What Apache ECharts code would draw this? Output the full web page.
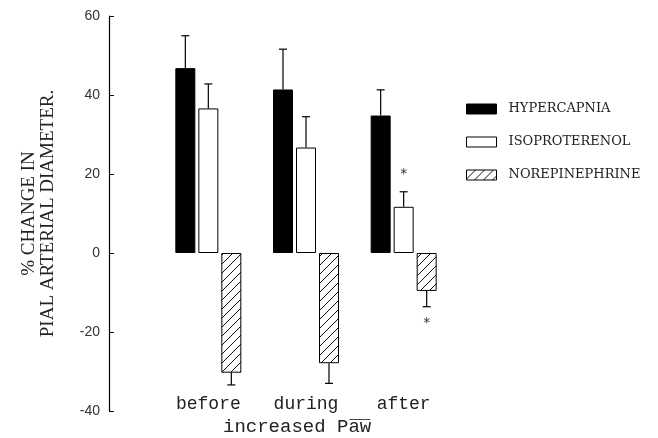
<!DOCTYPE html>
<html>
<head>
<meta charset="utf-8">
<script src="https://cdn.jsdelivr.net/npm/echarts@6/dist/echarts.min.js"></script>
<style>html,body{margin:0;padding:0;background:#fff}#c{width:658px;height:438px}</style>
</head>
<body>
<div id="c"></div>
<script>
// ---- data ----
const categories = ['before', 'during', 'after'];
const seriesNames = ['HYPERCAPNIA', 'ISOPROTERENOL', 'NOREPINEPHRINE'];
const hypercapnia = [46.8, 41.4, 34.8];
const hypercapniaSem = [8.2, 10.2, 6.5];
const isoproterenol = [36.6, 26.7, 11.7];
const isoproterenolSem = [6.2, 7.8, 3.8];
const norepinephrine = [-30.3, -27.9, -9.6];
const norepinephrineSem = [3.1, 5.1, 4.0];
const isoproterenolSig = [0, 0, 1];
const norepinephrineSig = [0, 0, 1];
const yTicks = [-40, -20, 0, 20, 40, 60];
const xTitle = 'increased Paw';

// ---- hatch pattern ----
const T = 9;
const pc = document.createElement('canvas');
pc.width = T; pc.height = T;
const ctx = pc.getContext('2d');
ctx.fillStyle = '#fff'; ctx.fillRect(0, 0, T, T);
ctx.strokeStyle = '#111'; ctx.lineWidth = 1;
ctx.beginPath();
ctx.moveTo(0, T); ctx.lineTo(T, 0);
ctx.moveTo(-T / 2, T / 2); ctx.lineTo(T / 2, -T / 2);
ctx.moveTo(T / 2, T * 1.5); ctx.lineTo(T * 1.5, T / 2);
ctx.stroke();

const BAR_W = 20, GAP = 3;
const values = [hypercapnia, isoproterenol, norepinephrine];
const sems = [hypercapniaSem, isoproterenolSem, norepinephrineSem];
const sigs = [[0, 0, 0], isoproterenolSig, norepinephrineSig];
const errData = [];
values.forEach((arr, s) => arr.forEach((v, i) => errData.push([i, v, sems[s][i], s, sigs[s][i]])));

const fills = ['#000', '#fff', {image: pc, repeat: 'repeat'}];

const chart = echarts.init(document.getElementById('c'), null, {renderer: 'canvas'});
const barSeries = seriesNames.map((n, s) => ({
  name: n, type: 'bar', data: values[s], barWidth: BAR_W, barGap: (GAP / BAR_W * 100) + '%',
  itemStyle: {color: fills[s], borderColor: '#000', borderWidth: 1},
  emphasis: {disabled: true}, animation: false
}));

const MONO = 'Liberation Mono';
const TITLE_FS = 19, CW = TITLE_FS * 0.6, TITLE_X = 223;

chart.setOption({
  animation: false,
  grid: {left: 159.5, right: 205.5, top: 16, bottom: 27, containLabel: false},
  legend: {
    orient: 'vertical', left: 466, top: 102.5, padding: 0, itemWidth: 30, itemHeight: 10, itemGap: 20,
    icon: 'rect', selectedMode: false,
    data: seriesNames,
    itemStyle: {borderColor: '#000', borderWidth: 1},
    textStyle: {fontFamily: 'DejaVu Serif', fontSize: 13, color: '#222', padding: [0, 0, 0, 7]}
  },
  xAxis: {
    type: 'category', data: categories,
    axisLine: {show: false, onZero: false}, axisTick: {show: false},
    axisLabel: {fontFamily: MONO, fontSize: 18, color: '#222', verticalAlign: 'bottom', margin: 2}
  },
  yAxis: {
    type: 'value', min: yTicks[0], max: yTicks[yTicks.length - 1], interval: 20, offset: 50.5,
    axisLine: {show: true, lineStyle: {color: '#000', width: 1.2}},
    axisTick: {show: true, inside: true, length: 5, lineStyle: {color: '#000'}},
    splitLine: {show: false},
    axisLabel: {fontFamily: 'Liberation Sans', fontSize: 14, color: '#333', margin: 9},
    name: '% CHANGE IN\nPIAL ARTERIAL DIAMETER.', nameLocation: 'middle', nameRotate: 90, nameGap: 51,
    nameTextStyle: {fontFamily: 'Liberation Serif', fontSize: 19, color: '#222', lineHeight: 19}
  },
  series: barSeries.concat([{
    type: 'custom', data: errData, silent: true, z: 5,
    renderItem: function (params, api) {
      const ci = api.value(0), v = api.value(1), e = api.value(2), s = api.value(3), sig = api.value(4);
      const sign = v >= 0 ? 1 : -1;
      const a = api.coord([ci, v]);
      const b = api.coord([ci, v + sign * e]);
      const x = a[0] + (s - 1) * (BAR_W + GAP);
      const st = {stroke: '#000', lineWidth: 1.2};
      const ch = [
        {type: 'line', shape: {x1: x, y1: a[1], x2: x, y2: b[1]}, style: st},
        {type: 'line', shape: {x1: x - 4, y1: b[1], x2: x + 4, y2: b[1]}, style: st}
      ];
      if (sig) {
        ch.push({type: 'text', style: {text: '*', x: x, y: b[1] - sign * 17, align: 'center', verticalAlign: 'middle',
          font: '14px DejaVu Sans', fill: '#333'}});
      }
      return {type: 'group', children: ch};
    }
  }]),
  graphic: [
    {type: 'text', style: {text: xTitle, x: TITLE_X, y: 427, verticalAlign: 'middle',
      font: TITLE_FS + 'px ' + MONO, fill: '#222'}},
    {type: 'line', shape: {x1: TITLE_X + 11 * CW + 1, y1: 419.5, x2: TITLE_X + 13 * CW - 1, y2: 419.5},
      style: {stroke: '#444', lineWidth: 1}}
  ]
});
</script>
</body>
</html>
